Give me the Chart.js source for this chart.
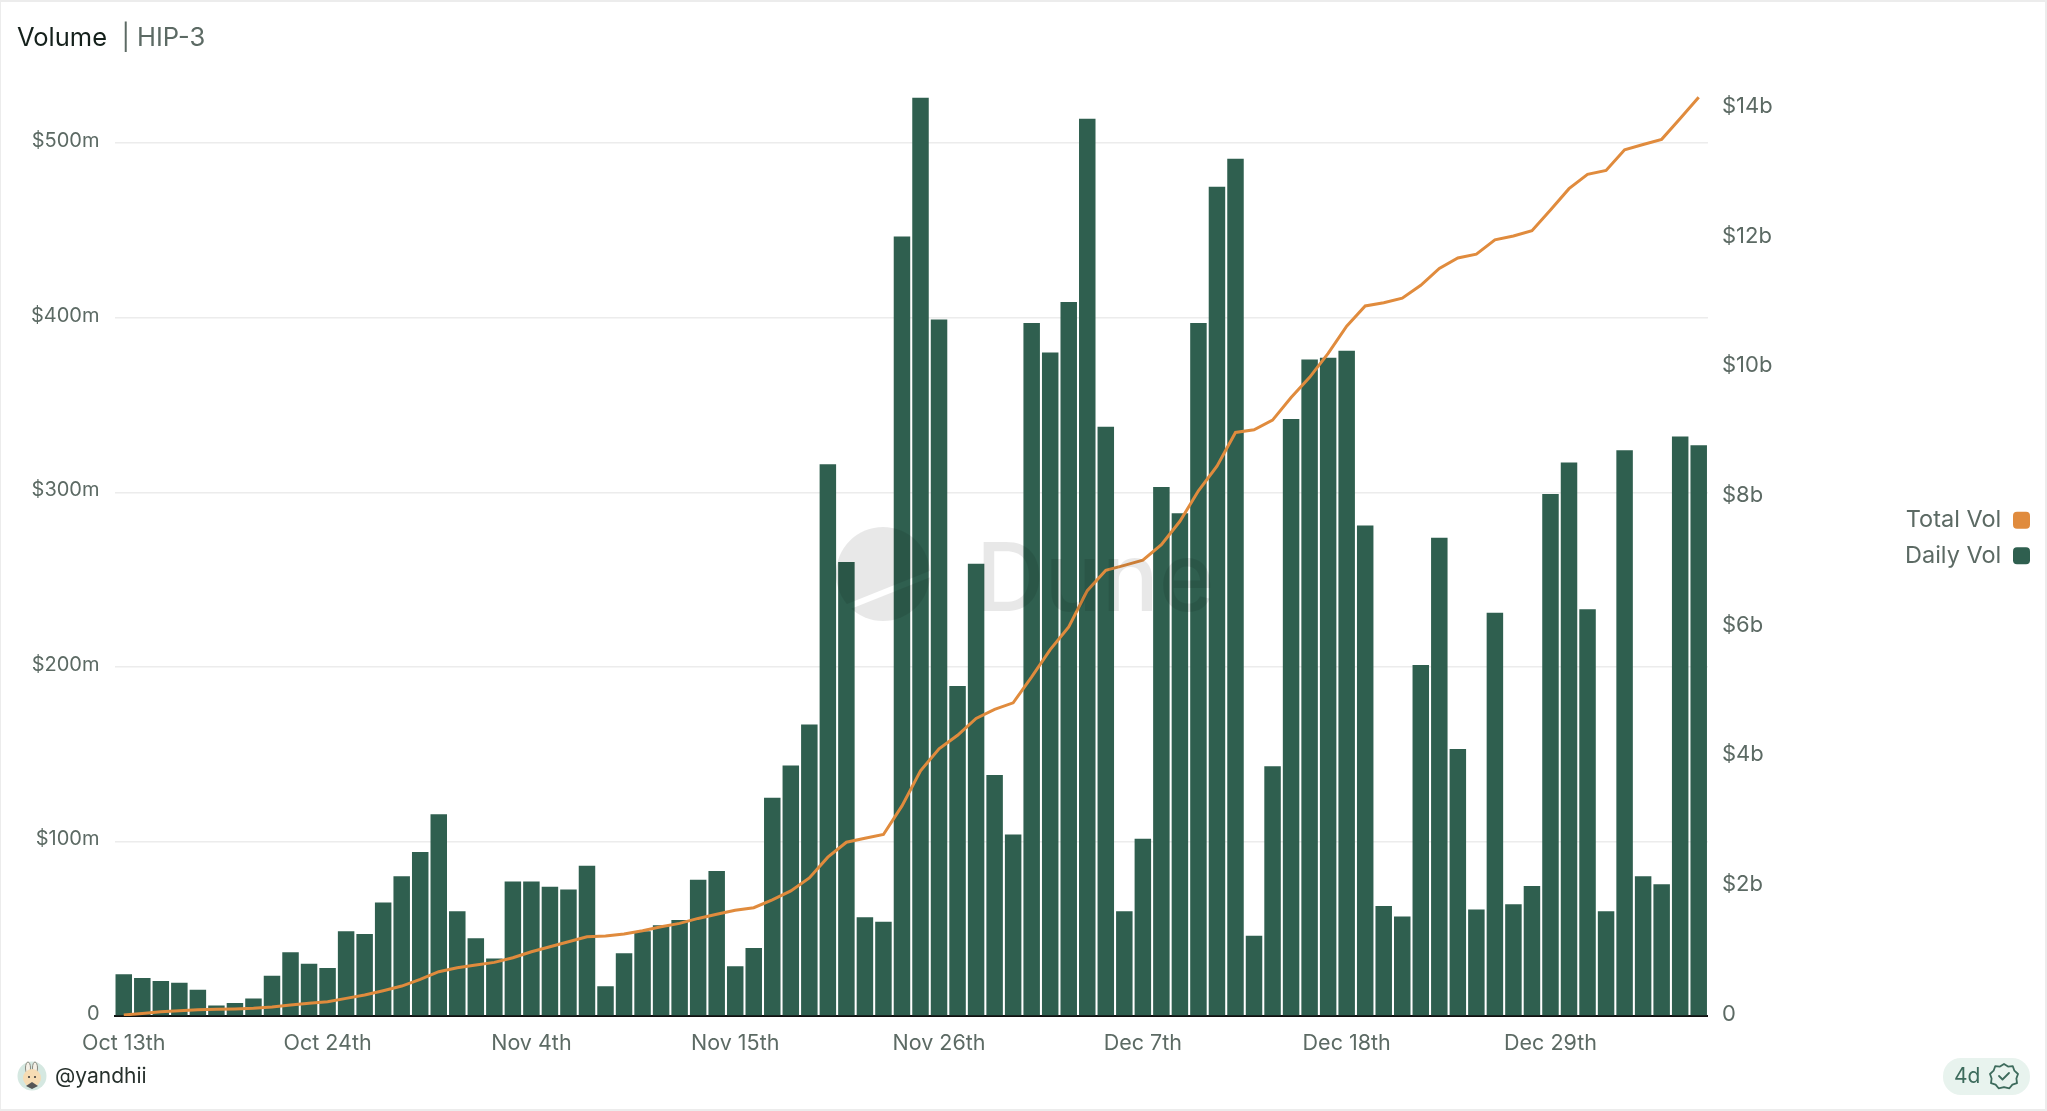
<!DOCTYPE html>
<html>
<head>
<meta charset="utf-8">
<title>Volume | HIP-3</title>
<script src="https://cdn.jsdelivr.net/npm/chart.js@4"></script>
<style>
html, body { margin: 0; padding: 0; background: #fff; }
#card { position: relative; width: 2047px; height: 1111px; overflow: hidden; font-family: Inter, sans-serif; }
#frame { position: absolute; left: 0; top: 0; right: 0; bottom: 0; border: 2px solid #ececec; border-left-width: 1px; pointer-events: none; }
#chart { position: absolute; left: 0; top: 0; }
#title { position: absolute; left: 17px; top: 22px; font-size: 25.5px; line-height: 29px; color: #14201b; white-space: pre; }
#title span { color: #5c6a64; }
#mark { position: absolute; left: 0; top: 0; pointer-events: none; }
#user { position: absolute; left: 55px; top: 1063px; font-size: 21px; line-height: 26px; color: #26302c; }
#avatar { position: absolute; left: 17px; top: 1061px; }
#age { position: absolute; left: 1943px; top: 1058px; width: 87px; height: 37px; border-radius: 18px; background: #e8f3ee; }
#age b { position: absolute; left: 11px; top: 5px; font-weight: 400; font-size: 21px; line-height: 26px; color: #3d6b5c; }
#age svg { position: absolute; left: 46px; top: 3px; }
</style>
</head>
<body>
<div id="card">
	<canvas id="chart" width="2047" height="1111"></canvas>
	<svg id="mark" width="2047" height="1111">
		<mask id="slash">
			<rect width="2047" height="1111" fill="#fff"/>
			<line x1="845" y1="608" x2="940" y2="570" stroke="#000" stroke-width="6"/>
		</mask>
		<circle cx="883" cy="574" r="47" fill="rgba(0,0,0,0.09)" mask="url(#slash)"/>
		<text x="976" y="611" font-family="Inter" font-weight="500" font-size="95" fill="rgba(0,0,0,0.09)">Dune</text>
	</svg>
	<div id="title">Volume  <span>| HIP-3</span></div>
	<svg id="avatar" width="30" height="30">
		<circle cx="15" cy="15" r="14.5" fill="#d5e8e1"/>
		<ellipse cx="11" cy="7" rx="2.5" ry="6" fill="#f5f0e6" stroke="#8a8a80"/>
		<ellipse cx="18" cy="7" rx="2.5" ry="6" fill="#f5f0e6" stroke="#8a8a80"/>
		<circle cx="15" cy="17" r="9" fill="#f6dcb4"/>
		<circle cx="12" cy="16" r="1" fill="#333"/>
		<circle cx="18" cy="16" r="1" fill="#333"/>
		<path d="M9 25l6-4 6 4-6 3z" fill="#555"/>
	</svg>
	<div id="user">@yandhii</div>
	<div id="age">
		<b>4d</b>
		<svg width="30" height="30" viewBox="0 0 30 30" fill="none" stroke="#3d6b5c" stroke-width="1.8" stroke-linejoin="round" stroke-linecap="round">
			<path d="M15 3l4 2.6 4.8-.4 1.6 4.5 3.6 3.300-1.600 4.500.6 4.700-4.600 1.400-3 3.700-5.400-1.300-5.400 1.300-3-3.700-4.600-1.400.6-4.700-1.600-4.500 3.600-3.300 1.600-4.500 4.800.4z"/>
			<path d="M10 15l3.500 3.500 6.500-6.500"/>
		</svg>
	</div>
	<div id="frame"></div>
</div>
<script>
var categories = [
	"Oct 13th","Oct 14th","Oct 15th","Oct 16th","Oct 17th","Oct 18th","Oct 19th","Oct 20th","Oct 21st","Oct 22nd","Oct 23rd",
	"Oct 24th","Oct 25th","Oct 26th","Oct 27th","Oct 28th","Oct 29th","Oct 30th","Oct 31st","Nov 1st","Nov 2nd","Nov 3rd",
	"Nov 4th","Nov 5th","Nov 6th","Nov 7th","Nov 8th","Nov 9th","Nov 10th","Nov 11th","Nov 12th","Nov 13th","Nov 14th",
	"Nov 15th","Nov 16th","Nov 17th","Nov 18th","Nov 19th","Nov 20th","Nov 21st","Nov 22nd","Nov 23rd","Nov 24th","Nov 25th",
	"Nov 26th","Nov 27th","Nov 28th","Nov 29th","Nov 30th","Dec 1st","Dec 2nd","Dec 3rd","Dec 4th","Dec 5th","Dec 6th",
	"Dec 7th","Dec 8th","Dec 9th","Dec 10th","Dec 11th","Dec 12th","Dec 13th","Dec 14th","Dec 15th","Dec 16th","Dec 17th",
	"Dec 18th","Dec 19th","Dec 20th","Dec 21st","Dec 22nd","Dec 23rd","Dec 24th","Dec 25th","Dec 26th","Dec 27th","Dec 28th",
	"Dec 29th","Dec 30th","Dec 31st","Jan 1st","Jan 2nd","Jan 3rd","Jan 4th","Jan 5th","Jan 6th"
];
var xTickLabels = ["Oct 13th","Oct 24th","Nov 4th","Nov 15th","Nov 26th","Dec 7th","Dec 18th","Dec 29th"];

// $m
var dailyVol = [
	23.9,21.7,20,19,15,6,7.5,10,23,36.5,30,
	27.5,48.5,47,65,80,94,115.5,60,44.5,33,77,
	77,74,72.5,86,17,36,48.5,52,55,78,83,
	28.5,39,125,143.5,167,316,260,56.5,54,446.5,526,
	399,189,259,138,104,397,380,409,514,337.5,60,
	101.5,303,288,397,475,491,46,143,342,376,377,
	381,281,63,57,201,274,153,61,231,64,74.5,
	299,317,233,60,324,80,75.5,332,327
];
// $b
var totalVol = [
	0.015,0.04,0.067,0.082,0.097,0.103,0.108,0.118,0.139,0.17,0.195,
	0.22,0.272,0.324,0.39,0.462,0.565,0.683,0.745,0.786,0.827,0.899,
	0.991,1.068,1.145,1.222,1.233,1.264,1.315,1.376,1.428,1.505,1.57,
	1.63,1.67,1.79,1.93,2.13,2.45,2.68,2.74,2.8,3.24,3.78,
	4.12,4.33,4.59,4.73,4.83,5.23,5.65,6,6.56,6.875,6.95,
	7.03,7.27,7.63,8.1,8.48,9,9.04,9.19,9.54,9.85,10.22,
	10.64,10.95,11,11.07,11.27,11.53,11.69,11.75,11.97,12.03,12.11,
	12.43,12.76,12.98,13.04,13.36,13.44,13.52,13.84,14.17
];

var green = "#2f5f4f";
var orange = "#e08b3d";
var textGrey = "#5c6a64";
var tickFont = { family: "Inter", size: 20 };

new Chart(document.getElementById("chart").getContext("2d"), {
	type: "bar",
	data: {
		labels: categories,
		datasets: [
			{
				type: "line",
				label: "Total Vol",
				data: totalVol,
				yAxisID: "y1",
				borderColor: orange,
				backgroundColor: orange,
				borderWidth: 3,
				pointRadius: 0,
				tension: 0
			},
			{
				label: "Daily Vol",
				data: dailyVol,
				yAxisID: "y",
				backgroundColor: green,
				categoryPercentage: 0.89,
				barPercentage: 1
			}
		]
	},
	options: {
		responsive: false,
		animation: false,
		layout: { padding: { top: 0, bottom: 35, left: 0, right: 5 } },
		plugins: {
			tooltip: { enabled: false },
			legend: {
				position: "right",
				rtl: true,
				labels: {
					boxWidth: 17,
					boxHeight: 17,
					useBorderRadius: true,
					borderRadius: 4,
					padding: 12,
					color: textGrey,
					font: { family: "Inter", size: 23.5 },
					generateLabels: function(chart) {
						var items = Chart.defaults.plugins.legend.labels.generateLabels(chart);
						items.forEach(function(item) { item.lineWidth = 0; });
						return items;
					}
				}
			}
		},
		scales: {
			x: {
				grid: { display: false },
				border: { color: "#111", width: 2 },
				ticks: {
					autoSkip: false,
					maxRotation: 0,
					padding: 7,
					color: textGrey,
					font: { family: "Inter", size: 21.5 },
					callback: function(value) {
						var label = this.getLabelForValue(value);
						return xTickLabels.indexOf(label) >= 0 ? label : "";
					}
				},
				afterFit: function(scale) { scale.height = 60; }
			},
			y: {
				position: "left",
				min: 0,
				max: 566.4,
				grid: { color: "#ececec", lineWidth: 1.5, drawTicks: false },
				border: { display: false },
				ticks: {
					stepSize: 100,
					includeBounds: false,
					padding: 15,
					labelOffset: -2,
					color: textGrey,
					font: tickFont,
					callback: function(value) { return value === 0 ? "0" : "$" + value + "m"; }
				},
				afterFit: function(scale) { scale.width = 114.5; }
			},
			y1: {
				position: "right",
				min: 0,
				max: 15.25,
				grid: { display: false, drawTicks: false },
				border: { display: false },
				ticks: {
					stepSize: 2,
					includeBounds: false,
					padding: 14,
					labelOffset: -2,
					color: textGrey,
					font: { family: "Inter", size: 22 },
					callback: function(value) { return value === 0 ? "0" : "$" + value + "b"; }
				},
				afterFit: function(scale) { scale.width = 187; }
			}
		}
	}
});
</script>
</body>
</html>
